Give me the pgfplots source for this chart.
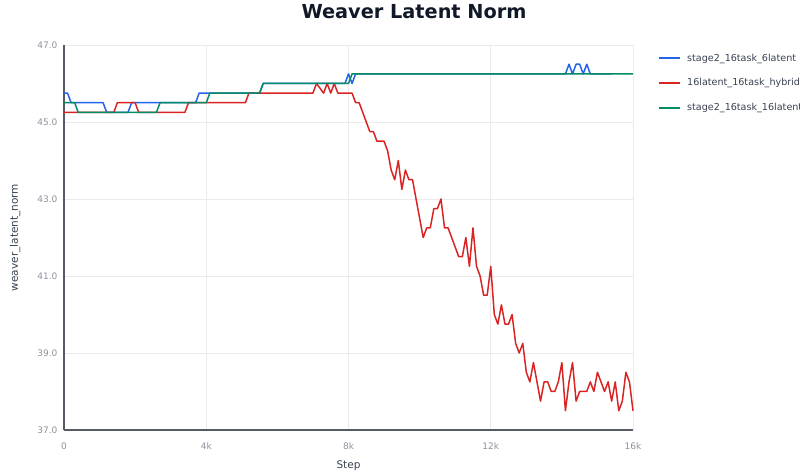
\documentclass[border=0pt]{standalone}
\usepackage{fontspec}
\setmainfont{DejaVu Sans}
\usepackage{pgfplots}
\pgfplotsset{compat=1.18}
\definecolor{cblue}{RGB}{37,99,235}
\definecolor{cred}{RGB}{218,36,36}
\definecolor{cgreen}{RGB}{5,140,100}
\definecolor{ctitle}{RGB}{17,24,39}
\definecolor{ctick}{RGB}{140,146,156}
\definecolor{clabel}{RGB}{55,65,81}
\definecolor{caxis}{RGB}{85,90,100}
\definecolor{cgrid}{RGB}{235,235,238}
\begin{document}
\begin{tikzpicture}[x=1pt,y=1pt]
\path[use as bounding box] (0,0) rectangle (800,471);
\node[font=\bfseries\fontsize{19.3}{23}\selectfont, text=ctitle] at (414,459) {Weaver Latent Norm};
\begin{axis}[
  at={(64pt,41pt)}, anchor=south west,
  width=569pt, height=385pt, scale only axis,
  xmin=0, xmax=16000, ymin=37, ymax=47,
  axis x line*=bottom, axis y line*=left,
  axis line style={caxis, line width=1.4pt, -},
  major tick length=0pt,
  xtick={0,4000,8000,12000,16000},
  xticklabels={0,4k,8k,12k,16k},
  scaled x ticks=false,
  ytick={37,39,41,43,45,47},
  yticklabel={\pgfmathprintnumber[fixed,fixed zerofill,precision=1]{\tick}},
  /pgf/number format/assume math mode=true,
  ticklabel style={font=\fontsize{9}{11}\selectfont, text=ctick},
  yticklabel style={xshift=-3pt},
  xticklabel style={yshift=-9pt},
  grid=major,
  major grid style={cgrid, line width=0.9pt},
  xlabel={Step}, ylabel={weaver\_latent\_norm},
  label style={font=\fontsize{10.5}{12}\selectfont, text=clabel},
  xlabel style={at={(axis description cs:0.5,-0.092)}, anchor=center},
  ylabel style={at={(axis description cs:-0.086,0.5)}, anchor=center, rotate=0},
  legend style={at={(1.039,0.988)}, anchor=north west, draw=none, fill=none,
    font=\fontsize{9.6}{11}\selectfont, text=clabel, row sep=12pt,
    /tikz/every odd column/.append style={column sep=4pt}},
  legend cell align=left,
  legend image code/.code={\draw[#1, line width=1.8pt] (0pt,0pt) -- (21pt,0pt);},
  clip=false,
]
\addplot[cblue, mark=none, line width=1.5pt, line join=round] coordinates {
(0,45.75) (100,45.75) (200,45.5) (1100,45.5) (1200,45.25) (1800,45.25) (1900,45.5)
(3700,45.5) (3800,45.75) (5500,45.75) (5600,46.0) (7900,46.0) (8000,46.25) (8100,46.0)
(8200,46.25) (14100,46.25) (14200,46.5) (14300,46.25) (14400,46.5) (14500,46.5)
(14600,46.25) (14700,46.5) (14800,46.25) (15400,46.25)
};
\addlegendentry{stage2\_16task\_6latent}
\addplot[cred, mark=none, line width=1.5pt, line join=round] coordinates {
(0,45.25) (1400,45.25) (1500,45.5) (2000,45.5) (2100,45.25) (3400,45.25) (3500,45.5)
(5100,45.5) (5200,45.75) (7000,45.75) (7100,46.0) (7300,45.75) (7400,46.0) (7500,45.75)
(7600,46.0) (7700,45.75) (8100,45.75) (8200,45.5) (8300,45.5) (8400,45.25) (8500,45.0)
(8600,44.75) (8700,44.75) (8800,44.5) (9000,44.5) (9100,44.25) (9200,43.75) (9300,43.5)
(9400,44.0) (9500,43.25) (9600,43.75) (9700,43.5) (9800,43.5) (9900,43.0) (10000,42.5)
(10100,42.0) (10200,42.25) (10300,42.25) (10400,42.75) (10500,42.75) (10600,43.0)
(10700,42.25) (10800,42.25) (10900,42.0) (11000,41.75) (11100,41.5) (11200,41.5)
(11300,42.0) (11400,41.25) (11500,42.25) (11600,41.25) (11700,41.0) (11800,40.5)
(11900,40.5) (12000,41.25) (12100,40.0) (12200,39.75) (12300,40.25) (12400,39.75)
(12500,39.75) (12600,40.0) (12700,39.25) (12800,39.0) (12900,39.25) (13000,38.5)
(13100,38.25) (13200,38.75) (13300,38.25) (13400,37.75) (13500,38.25) (13600,38.25)
(13700,38.0) (13800,38.0) (13900,38.25) (14000,38.75) (14100,37.5) (14200,38.25)
(14300,38.75) (14400,37.75) (14500,38.0) (14600,38.0) (14700,38.0) (14800,38.25)
(14900,38.0) (15000,38.5) (15100,38.25) (15200,38.0) (15300,38.25) (15400,37.75)
(15500,38.25) (15600,37.5) (15700,37.75) (15800,38.5) (15900,38.25) (16000,37.5)
};
\addlegendentry{16latent\_16task\_hybrid}
\addplot[cgreen, mark=none, line width=1.5pt, line join=round] coordinates {
(0,45.5) (300,45.5) (400,45.25) (2600,45.25) (2700,45.5) (4000,45.5) (4100,45.75)
(5500,45.75) (5600,46.0) (8000,46.0) (8100,46.25) (16000,46.25)
};
\addlegendentry{stage2\_16task\_16latent}
\end{axis}
\end{tikzpicture}
\end{document}
